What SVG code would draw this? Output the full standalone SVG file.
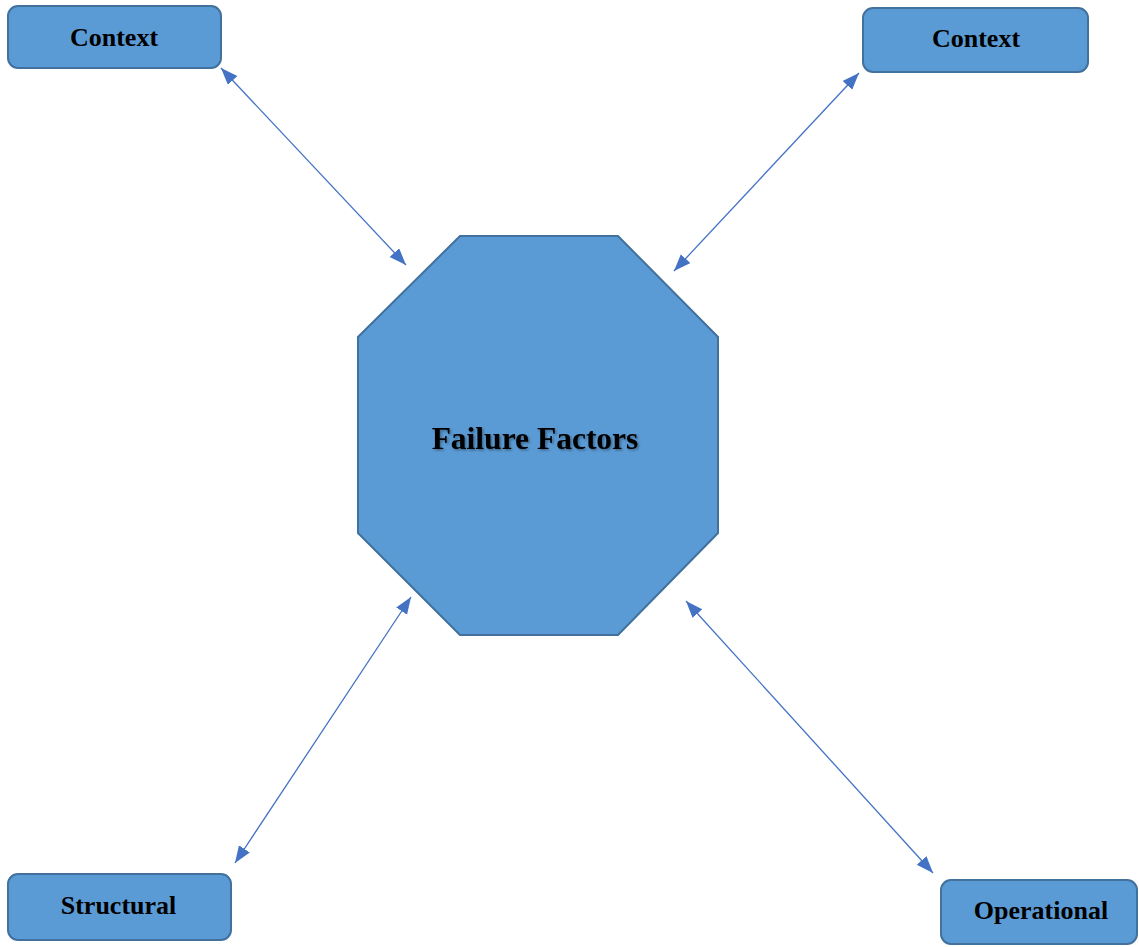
<svg xmlns="http://www.w3.org/2000/svg" width="1139" height="947" viewBox="0 0 1139 947">
<style>
.box{fill:#5B9BD5;stroke:#41719C;stroke-width:2}
.lbl{font-family:"Liberation Serif","Times New Roman",serif;font-weight:bold;font-size:26px;fill:#000;text-anchor:middle}
.big{font-size:31.5px}
.conn{stroke:#4472C4;stroke-width:1.3;fill:none;marker-start:url(#ah);marker-end:url(#ah)}
</style>
<defs>
<marker id="ah" markerUnits="userSpaceOnUse" markerWidth="18" markerHeight="14" refX="17" refY="6.5" orient="auto-start-reverse">
<path d="M0,0 L17,6.5 L0,13 z" fill="#4472C4"/>
</marker>
<filter id="sh" x="-10%" y="-30%" width="120%" height="160%">
<feDropShadow dx="1.5" dy="1.5" stdDeviation="1" flood-color="#000" flood-opacity="0.35"/>
</filter>
</defs>
<rect width="1139" height="947" fill="#fff"/>
<g id="connectors">
<line class="conn" x1="221" y1="68" x2="406" y2="265"/>
<line class="conn" x1="859" y1="73" x2="674" y2="271"/>
<line class="conn" x1="411" y1="597" x2="235" y2="863"/>
<line class="conn" x1="686" y1="601" x2="933" y2="873"/>
</g>
<g id="failure-factors">
<polygon class="box" points="460,236 618,236 718,337 718,533 618,635 460,635 358,533 358,337"/>
<text class="lbl big" x="535" y="449" filter="url(#sh)">Failure Factors</text>
</g>
<g id="context-left">
<rect class="box" x="8" y="6" width="213" height="62" rx="10"/>
<text class="lbl" x="114" y="46">Context</text>
</g>
<g id="context-right">
<rect class="box" x="863" y="8" width="225" height="64" rx="10"/>
<text class="lbl" x="976" y="47">Context</text>
</g>
<g id="structural">
<rect class="box" x="8" y="874" width="223" height="66" rx="10"/>
<text class="lbl" x="118.5" y="914">Structural</text>
</g>
<g id="operational">
<rect class="box" x="941" y="880" width="196" height="64" rx="10"/>
<text class="lbl" x="1041" y="919">Operational</text>
</g>
</svg>
